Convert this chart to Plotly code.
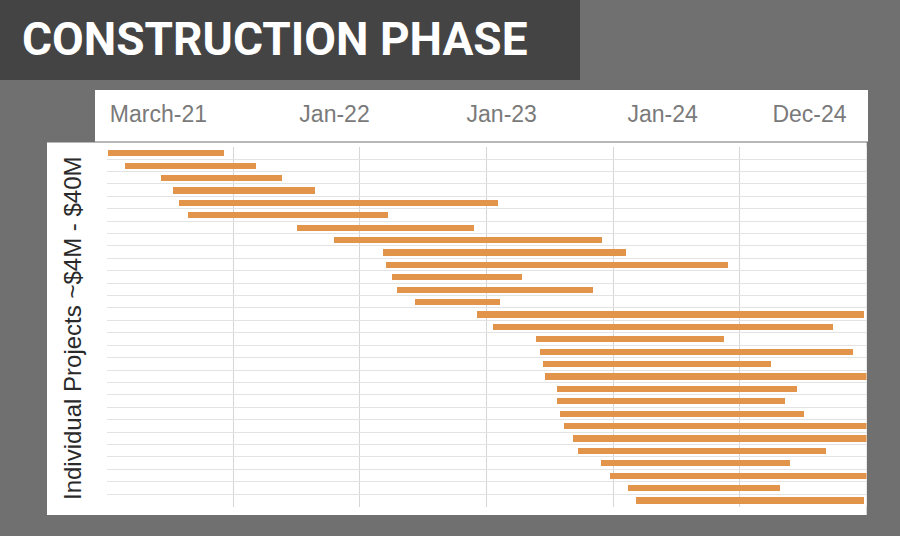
import plotly.graph_objects as go

W, H = 900, 536

# Données (unité: 10 = un intervalle de grille)
rows = list(range(1, 30))
start = [0.1, 1.4, 4.3, 5.2, 5.7, 6.4, 15.0, 17.9, 21.8, 22.0,
         22.5, 22.9, 24.3, 29.2, 30.5, 33.9, 34.2, 34.4, 34.6, 35.5,
         35.5, 35.8, 36.1, 36.8, 37.2, 39.0, 39.7, 41.1, 41.8]
end = [9.2, 11.8, 13.8, 16.4, 30.9, 22.2, 29.0, 39.1, 41.0, 49.0,
       32.8, 38.4, 31.0, 59.8, 57.3, 48.7, 58.9, 52.4, 62.0, 54.5,
       53.5, 55.0, 62.0, 62.0, 56.8, 53.9, 62.0, 53.1, 59.8]

header_labels = ["March-21", "Jan-22", "Jan-23", "Jan-24", "Dec-24"]
header_pos = [4.1, 18.0, 31.2, 43.9, 55.5]

title = "CONSTRUCTION PHASE"
side_label = "Individual Projects ~$4M - $40M"

duration = [e - s for s, e in zip(start, end)]


def px(x):
    return x / W


def py(y):
    return 1 - y / H


fig = go.Figure()

fig.add_trace(go.Bar(
    y=rows, x=duration, base=start, orientation="h",
    width=0.5, marker=dict(color="#E2944A", line=dict(width=0)),
    hoverinfo="skip", showlegend=False,
))

# fond, bandeau titre, en-tête et panneau
fig.add_shape(type="rect", xref="paper", yref="paper", x0=0, x1=px(580), y0=py(80), y1=1,
              fillcolor="#444444", line=dict(width=0), layer="below")
fig.add_shape(type="rect", xref="paper", yref="paper", x0=px(95), x1=px(868), y0=py(141), y1=py(90),
              fillcolor="white", line=dict(width=0), layer="below")
fig.add_shape(type="rect", xref="paper", yref="paper", x0=px(47), x1=px(866.7), y0=py(515), y1=py(142.5),
              fillcolor="white", line=dict(width=0), layer="below")
fig.add_shape(type="line", xref="paper", yref="paper", x0=px(95), x1=px(868), y0=py(141.5), y1=py(141.5),
              line=dict(color="#b8b8b8", width=1), layer="below")

fig.add_annotation(text=title, xref="paper", yref="paper", x=px(20), y=py(39),
                   xanchor="left", yanchor="middle", showarrow=False,
                   font=dict(family="Roboto", size=46, color="white", weight=700))
fig.add_annotation(text=side_label, xref="paper", yref="paper", x=px(72), y=py(328),
                   xanchor="center", yanchor="middle", showarrow=False, textangle=-90,
                   font=dict(family="Liberation Sans, Arial", size=24, color="#2a2a2a"))

fig.update_layout(
    width=W, height=H,
    margin=dict(l=0, r=0, t=0, b=0),
    paper_bgcolor="#707070",
    plot_bgcolor="white",
    bargap=0,
    xaxis=dict(domain=[px(106.5), px(866.5)], range=[0, 60], dtick=10, tick0=0,
               showgrid=True, gridcolor="#d6d6d6", gridwidth=1, zeroline=False,
               showticklabels=False, ticks="", showline=False, fixedrange=True),
    xaxis2=dict(overlaying="x", anchor="free", position=py(127), side="top",
                range=[0, 60], tickvals=header_pos, ticktext=header_labels,
                showgrid=False, zeroline=False, ticks="", showline=False,
                tickfont=dict(family="Liberation Sans, Arial", size=23, color="#7a7a7a")),
    yaxis=dict(domain=[py(506.5), py(146.7)], range=[29.5, 0.5], tick0=0.5, dtick=1,
               showgrid=True, gridcolor="#e3e3e3", gridwidth=1, zeroline=False,
               showticklabels=False, ticks="", showline=False, fixedrange=True),
)

# trace invisible pour activer l'axe d'en-tête
fig.add_trace(go.Scatter(x=[header_pos[0]], y=[1], xaxis="x2", mode="markers",
                         marker=dict(opacity=0), hoverinfo="skip", showlegend=False))

fig.write_html("out.html", config={"displayModeBar": False},
               post_script="document.body.style.margin='0';")
